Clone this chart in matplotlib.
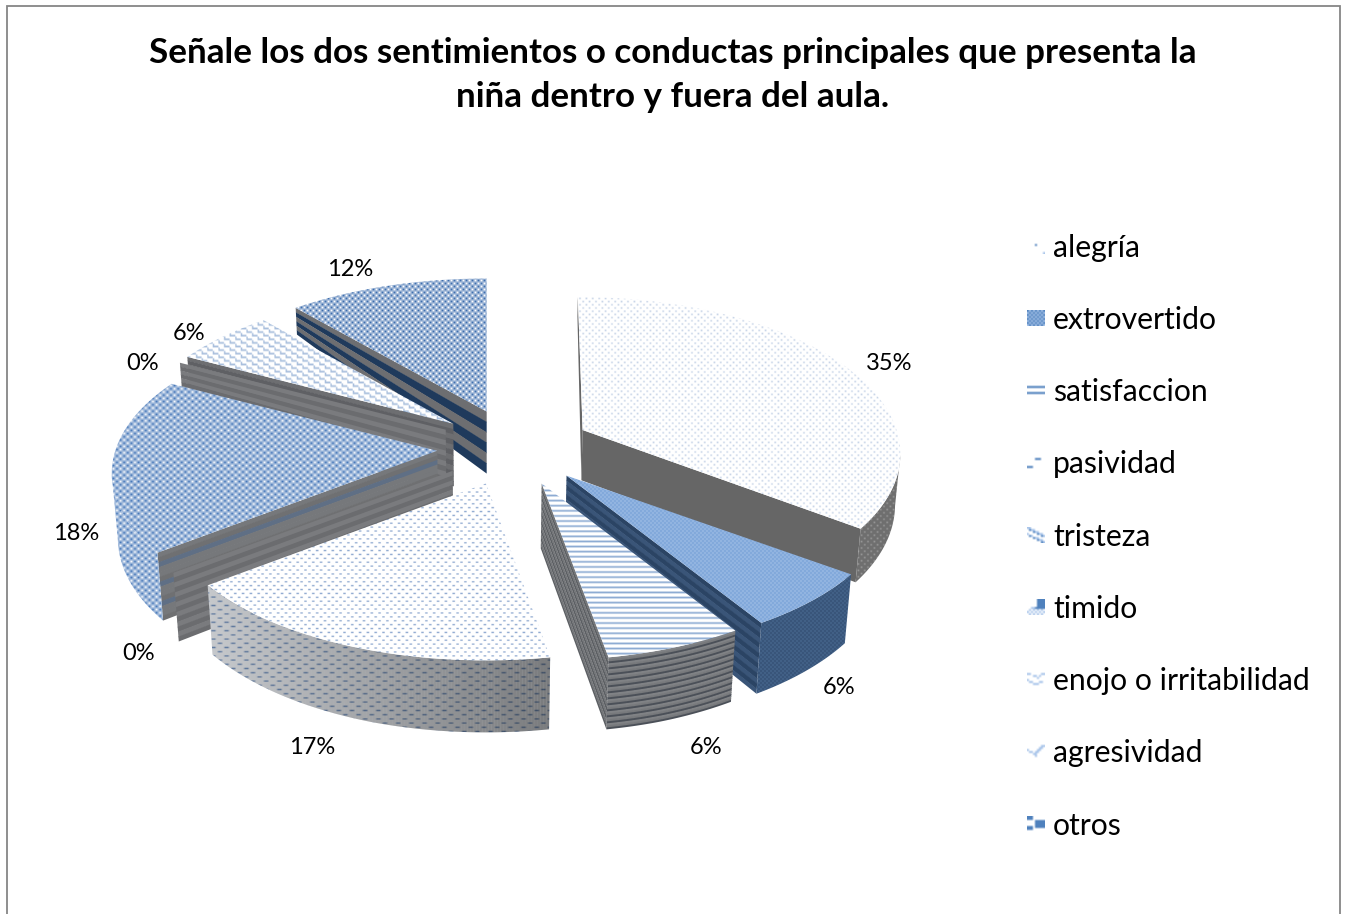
import numpy as np
import matplotlib
matplotlib.use('Agg')
import matplotlib.pyplot as plt
from matplotlib.patches import Polygon, Rectangle
from matplotlib.colors import to_rgb

plt.rcParams['font.family'] = ['Lato', 'DejaVu Sans']

title = 'Señale los dos sentimientos o conductas principales que presenta la\nniña dentro y fuera del aula.'
categories = ['alegría', 'extrovertido', 'satisfaccion', 'pasividad', 'tristeza', 'timido',
              'enojo o irritabilidad', 'agresividad', 'otros']
values = [35.0, 6.1, 6.1, 17.45, 0, 18.0, 0, 5.8, 11.55]

W, H = 1347, 914
center = (514, 447.5)
explode = 77
rx, ry, persp = 322, 155, 0.142

# pattern tiles: (rows, cell width, cell height)
dots = (['1000', '0000', '0010', '0000'], 1.6, 1.6)
fine = (['10', '01'], 2.0, 2.0)
lines = (['1', '0', '0'], 4, 1.7)
dashes = (['110000', '000000', '000000', '000110', '000000', '000000'], 1.3, 1.3)
dashes_big = (['110000', '000000', '000000', '000110', '000000', '000000'], 2.2, 1.4)
check = (['10', '01'], 3.0, 3.0)
check_wide = (['10', '01'], 3.6, 3.2)
brick = (['11110000', '00001000', '00001111', '10000000'], 1.4, 1.8)

# (tile, back colour, front colour)
tops = [
    (dots, '#ffffff', '#c3d1e6'),
    (fine, '#6c99d2', '#a9c5ea'),
    (lines, '#ffffff', '#8aa9d2'),
    (dashes, '#ffffff', '#8fa9d0'),
    (fine, '#ffffff', '#8aa9d2'),
    (check_wide, '#ffffff', '#3f72b6'),
    (fine, '#ffffff', '#8aa9d2'),
    (brick, '#ffffff', '#a9bfdd'),
    (check, '#ffffff', '#3d6dae'),
]
# rim wall: either a pattern or repeating bands of colour
rims = [
    {'pat': (dots, '#6f6f6f', '#9a9a9a'), 'shade': 0},
    {'pat': (fine, '#2c4668', '#4f7099'), 'shade': 0},
    {'bands': ['#808285', '#77797c', '#4b5058'], 'n': 36, 'shade': 0},
    {'pat': (dashes_big, '#d3d6da', '#6b86ad'), 'shade': 0.42},
    {'bands': ['#808285', '#5c5f63'], 'n': 14, 'shade': 0},
    {'pat': (check_wide, '#ffffff', '#3f72b6'), 'shade': 0.12},
    {'bands': ['#808285', '#5c5f63'], 'n': 10, 'shade': 0},
    {'bands': ['#808285', '#5c5f63'], 'n': 10, 'shade': 0},
    {'bands': ['#6d6e71', '#1f3a5c'], 'n': 6, 'shade': 0},
]
# radial walls
walls = [
    ['#666666'],
    ['#2b4464', '#3a5578'],
    ['#76787b', '#5c5f63'],
    ['#76787b', '#5c5f63'],
    ['#7a7b7e', '#6b6c6f'],
    ['#76787b', '#6f7072', '#5f6f85', '#76787b'],
    ['#7a7b7e', '#6b6c6f'],
    ['#6d6e71', '#5f6064'],
    ['#6d6e71', '#1f3a5c'],
]
wall_bands = [1, 14, 16, 12, 14, 14, 12, 12, 6]
height_scale = [0.8, 1, 1, 1, 1, 1, 1, 1, 1]
width_scale = [0.975, 1, 1, 1, 1, 1, 1, 1, 1]

# legend key patterns, 9x8 cells
key_tiles = [
    ['000000000', '000000000', '000000000', '000020000', '000000000', '000000000', '000000000', '000000001'],
    ['212121212', '121212121', '212121212', '121212121', '212121212', '121212121', '212121212', '121212121'],
    ['000000000', '000000000', '222222222', '000000000', '000000000', '222222222', '000000000', '000000000'],
    ['000000000', '000000000', '000022200', '000000000', '000000000', '000000000', '222000000', '000000000'],
    ['110000000', '021100000', '000211000', '100002110', '021000021', '000211000', '000002110', '000000021'],
    ['000002222', '000002222', '000002222', '000002222', '001122222', '010101010', '101010101', '010101010'],
    ['000000000', '110000011', '000110100', '000001000', '100000000', '011000110', '000111000', '000000000'],
    ['000000000', '000000011', '000000110', '100001100', '011011000', '000110000', '000010000', '000000000'],
    ['222000000', '222000000', '000022222', '000022222', '000022222', '222022222', '222000000', '000000000'],
]
key_colors = ['#ffffff', '#a9c5ea', '#4f81bd']

label_xy = [(889, 364), (839, 688), (706, 748), (312, 748), (139, 653), (76, 533), (143, 363), (189, 334), (350, 270)]
legend_y = [248, 320, 392, 464, 537, 609, 681, 753, 826]
key_y = [246, 318, 390, 462, 535, 607, 679, 751, 824]

fig = plt.figure(figsize=(W / 100, H / 100), dpi=100)
ax = fig.add_axes([0, 0, 1, 1])
ax.set_xlim(0, W)
ax.set_ylim(H, 0)
ax.axis('off')
z = [2]


def next_z():
    z[0] += 1
    return z[0]


def pattern_image(spec):
    (rows, cw, ch), c0, c1 = spec
    tile = np.array([[int(c) for c in r] for r in rows], dtype=float)
    ny, nx = int(H / ch / tile.shape[0]) + 1, int(W / cw / tile.shape[1]) + 1
    grid = np.tile(tile, (ny, nx))[..., None]
    c0, c1 = np.array(to_rgb(c0)), np.array(to_rgb(c1))
    img = c0 + grid * (c1 - c0)
    return img, (0, grid.shape[1] * cw, grid.shape[0] * ch, 0)


def fill_pattern(pts, spec):
    img, ext = pattern_image(spec)
    im = ax.imshow(img, extent=ext, interpolation='bilinear', aspect='auto', zorder=next_z())
    clip = Polygon(pts, closed=True, transform=ax.transData)
    im.set_clip_path(clip)
    ax.set_xlim(0, W)
    ax.set_ylim(H, 0)


def rim_point(apex, theta, wide=1):
    c, sn = np.cos(theta), np.sin(theta)
    s = 1 - persp * c
    x = apex[0] + rx * wide * sn * s + (apex[0] - 487) * (s - 1) * 0.35
    y = apex[1] - ry * c * s
    return np.column_stack([x, y])


def drop(pts, scale=1):
    # height of the solid at a screen position, smaller towards the back
    d = np.interp(pts[:, 1], [300, 410, 650], [24, 62, 72]) * scale
    x = pts[:, 0] - (pts[:, 0] - 487) * 0.018 * d / 72
    return np.column_stack([x, pts[:, 1] + d])


def band_wall(top, colors, n, scale=1):
    low = drop(top, scale)
    for i in range(n):
        a, b = i / n, (i + 1) / n + 0.01
        upper = top + (low - top) * a
        lower = top + (low - top) * min(b, 1)
        ax.add_patch(Polygon(np.vstack([upper, lower[::-1]]), closed=True, fc=colors[i % len(colors)],
                             ec='none', zorder=next_z()))


def draw_slice(i, t0, t1, apex):
    sc = height_scale[i]
    wide = width_scale[i]
    # radial walls: end wall shows if it runs right of the apex, start wall if left of it
    for th, sign in [(t1, 1), (t0, -1)]:
        end = rim_point(apex, np.array([th]), wide)[0]
        apex_pt = np.array(apex)
        visible = sign * (end - apex_pt)[0] > 0
        if t0 == t1:
            visible = sign > 0
        if visible:
            band_wall(np.array([apex_pt, end]), walls[i], wall_bands[i], sc)

    if t1 > t0:
        thetas = np.linspace(t0, t1, max(int((t1 - t0) * 120), 3))
        rim = rim_point(apex, thetas, wide)
        # the rim wall faces the viewer where the rim runs leftwards
        front = np.gradient(rim[:, 0]) < 0
        if front.sum() > 1:
            seg = rim[front]
            low = drop(seg, sc)
            r = rims[i]
            if 'pat' in r:
                fill_pattern(np.vstack([seg, low[::-1]]), r['pat'])
            else:
                band_wall(seg, r['bands'], r['n'], sc)
            if r['shade']:
                # wall gets darker towards the right
                for j in range(len(seg) - 1):
                    alpha = r['shade'] * np.clip((seg[j, 0] - 150) / 400, 0, 1)
                    ax.add_patch(Polygon([seg[j], seg[j + 1], low[j + 1], low[j]], closed=True, fc='black',
                                         ec='none', alpha=alpha, zorder=next_z()))
        fill_pattern(np.vstack([[apex], rim]), tops[i])


# frame
ax.add_patch(Rectangle((7, 6), 1333, 920, fc='white', ec='#868686', lw=1.3, zorder=1))

vals = np.array(values, dtype=float)
cum = np.concatenate([[0], np.cumsum(vals)]) / vals.sum() * 2 * np.pi
mid = (cum[:-1] + cum[1:]) / 2
apexes = [(center[0] + explode * np.sin(m), center[1] - explode * 0.5 * np.cos(m)) for m in mid]

for i in np.argsort(-np.cos(mid)):
    draw_slice(i, cum[i], cum[i + 1], apexes[i])

for v, (x, y) in zip(values, label_xy):
    ax.text(x, y, f'{v:.0f}%', fontsize=17, ha='center', va='center', color='black', zorder=500)

ax.text(673, 75, title, fontsize=25.2, fontweight='bold', ha='center', va='center', linespacing=1.48, zorder=500)

for i, name in enumerate(categories):
    ax.text(1053, legend_y[i], name, fontsize=21.7, ha='left', va='center', zorder=500)
    tile = np.array([[to_rgb(key_colors[int(c)]) for c in r] for r in key_tiles[i]])
    ax.imshow(tile, extent=(1027, 1045, key_y[i] + 8, key_y[i] - 8), interpolation='bilinear',
              aspect='auto', zorder=500)
    ax.set_xlim(0, W)
    ax.set_ylim(H, 0)

fig.savefig('out.png', dpi=100, facecolor='white')
